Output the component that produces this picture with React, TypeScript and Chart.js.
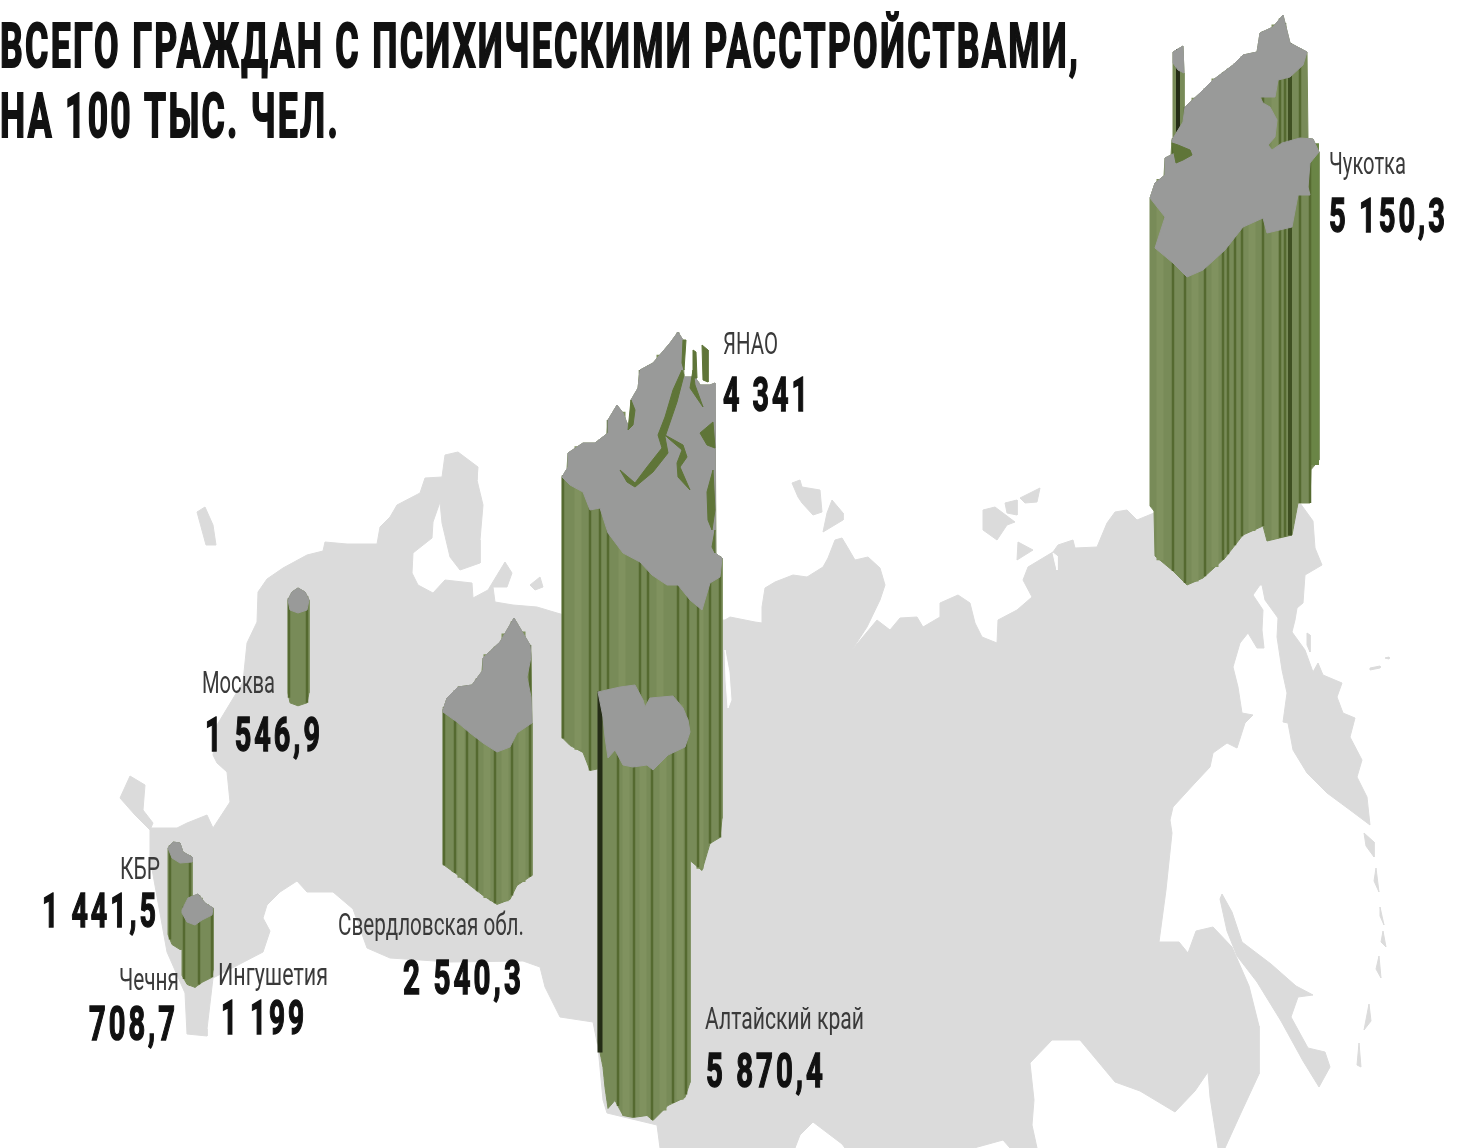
import React, { useEffect, useRef } from "react";
import { Chart, registerables } from "chart.js";

Chart.register(...registerables);

type P = [number, number];

const titleLines = ["ВСЕГО ГРАЖДАН С ПСИХИЧЕСКИМИ РАССТРОЙСТВАМИ,", "НА 100 ТЫС. ЧЕЛ."];
const regionNames = ["Чукотка", "ЯНАО", "Москва", "КБР", "Чечня", "Ингушетия", "Свердловская обл.", "Алтайский край"];
const regionValues = [5150.3, 4341, 1546.9, 1441.5, 708.7, 1199, 2540.3, 5870.4];
const valueLabels = ["5 150,3", "4 341", "1 546,9", "1 441,5", "708,7", "1 199", "2 540,3", "5 870,4"];
// column height in map units per value unit
const heightPerUnit = [0.0598, 0.06, 0.06, 0.06, 0.06, 0.052, 0.06, 0.0597];

// [left, baseline, width] of each label in map units
const nameBoxes = [[1329, 174, 77], [723, 354, 55], [202, 693, 73], [120, 879, 40], [119, 990, 60], [218, 985, 110], [338, 935, 186], [705, 1029, 159]];
const valueBoxes = [[1329, 232, 119], [723, 411, 88], [205, 751, 118], [42, 927, 117], [89, 1040, 89], [221, 1034, 86], [403, 994, 121], [706, 1087, 120]];
const titleBoxes = [[0, 67, 1080], [0, 137, 340]];

const mainland: P[] = [
  [258,592],[267,579],[283,568],[307,555],[323,551],[325,542],[347,544],[377,544],[380,527],[390,517],[397,505],[420,493],[425,478],[442,477],[445,455],[458,452],[478,467],[477,480],[483,505],[480,540],[480,563],[460,570],[450,557],[442,523],[440,502],[433,522],[432,538],[413,553],[412,573],[418,585],[433,593],[445,580],[472,583],[473,598],[488,590],[505,562],[512,573],[507,587],[493,587],[495,602],[513,605],[537,607],[557,613],
  [600,625],[725,620],[730,617],[755,622],[762,623],[762,607],[765,588],[775,582],[793,575],[807,577],[823,567],[828,558],[835,540],[842,538],[848,548],[855,560],[868,557],[880,568],[885,585],[880,600],[867,627],[852,650],[877,620],[890,630],[900,618],[917,617],[923,627],[940,617],[940,603],[958,595],[970,603],[975,623],[982,637],[997,643],[998,620],[1017,610],[1032,597],[1023,580],[1028,567],[1053,552],[1058,545],[1073,540],[1075,548],[1097,547],[1107,523],[1115,512],[1127,510],[1137,520],[1154,513],
  [1300,503],[1313,521],[1315,548],[1322,565],[1305,575],[1303,603],[1297,608],[1295,620],[1292,632],[1305,650],[1313,672],[1318,663],[1323,675],[1342,683],[1337,697],[1343,713],[1355,718],[1350,737],[1362,760],[1357,777],[1367,797],[1370,825],[1350,810],[1327,793],[1307,773],[1293,750],[1288,723],[1283,722],[1287,693],[1282,670],[1277,637],[1278,618],[1265,600],[1262,585],[1260,585],[1253,595],[1263,610],[1262,630],[1264,648],[1257,648],[1248,633],[1240,643],[1233,667],[1238,687],[1242,713],[1253,715],[1245,723],[1237,748],[1227,743],[1213,753],[1210,767],[1195,783],[1173,807],[1170,820],[1172,833],[1166,890],[1159,942],[1179,942],[1188,953],[1196,931],[1213,927],[1232,947],[1249,986],[1259,1026],[1259,1074],[1240,1115],[1225,1148],
  [1218,1148],[1210,1097],[1208,1072],[1195,1091],[1175,1112],[1140,1091],[1115,1082],[1080,1040],[1052,1040],[1030,1063],[1034,1100],[1032,1125],[1037,1148],[1010,1148],[1003,1140],[974,1148],[845,1148],[842,1144],[813,1122],[800,1135],[795,1148],[660,1148],[657,1125],[607,1113],[603,1100],[598,1047],[593,1022],[560,1017],[545,987],[540,967],[523,961],[450,962],[390,958],[367,948],[353,909],[333,892],[307,892],[297,881],[280,892],[267,905],[263,918],[270,931],[263,952],[213,978],[207,1029],[207,1036],[187,1034],[185,993],[167,952],[150,858],[150,828],[167,828],[177,828],[187,823],[207,815],[213,828],[230,802],[227,772],[217,763],[213,755],[217,725],[243,682],[247,643],[257,622],
];
const islands: P[][] = [
  [[197,512],[205,507],[213,525],[216,545],[206,545]],
  [[120,798],[130,776],[145,785],[143,810],[153,823],[150,830],[135,815]],
  [[530,585],[540,577],[543,587],[535,590]],
  [[792,483],[800,480],[802,487],[820,490],[822,512],[813,515],[802,503],[798,497]],
  [[832,500],[843,513],[843,520],[823,532],[827,513]],
  [[983,510],[995,507],[1003,513],[1015,522],[1007,525],[997,540],[983,530]],
  [[1005,503],[1017,500],[1017,515],[1007,513]],
  [[1020,498],[1040,488],[1037,502],[1025,503]],
  [[1018,542],[1033,550],[1017,560]],
  [[1222,894],[1232,912],[1242,942],[1271,964],[1296,986],[1313,995],[1298,997],[1291,1017],[1308,1048],[1325,1052],[1330,1067],[1319,1087],[1303,1061],[1281,1021],[1257,982],[1237,956],[1227,931],[1220,899]],
  [[1307,633],[1310,635],[1310,652],[1307,645]],
  [[1364,833],[1374,842],[1374,857],[1366,846]],
  [[1376,868],[1379,892],[1374,881]],
  [[1380,907],[1384,925],[1380,916]],
  [[1383,931],[1386,947],[1381,942]],
  [[1379,956],[1381,978],[1376,969]],
  [[1369,1004],[1364,1030],[1371,1021]],
  [[1359,1043],[1361,1067],[1357,1065]],
  [[1370,668],[1380,666],[1380,668],[1370,670]],
  [[1385,658],[1389,657],[1389,659]],
];
const riverCuts: P[][] = [
  [[725,650],[729,672],[731,700],[728,708],[726,680]],
  [[1053,553],[1057,556],[1057,570],[1055,562]],
];

const outlineChukotka: P[] = [[1150,198],[1155,183],[1165,175],[1165,158],[1175,153],[1172,140],[1183,122],[1185,107],[1200,93],[1213,80],[1233,65],[1243,55],[1257,52],[1260,33],[1273,27],[1283,15],[1290,43],[1307,52],[1303,65],[1290,77],[1278,80],[1275,97],[1260,97],[1263,103],[1270,107],[1277,120],[1275,137],[1268,145],[1272,150],[1282,143],[1300,138],[1313,139],[1319,152],[1310,163],[1308,187],[1310,195],[1298,195],[1292,227],[1267,233],[1263,218],[1243,227],[1225,250],[1203,270],[1187,277],[1173,263],[1155,248],[1165,217]];
const outlineWrangel: P[] = [[1173,52],[1183,46],[1184,73],[1178,70],[1173,63]];
const outlineYanao: P[] = [[562,477],[568,467],[568,453],[583,443],[595,443],[608,433],[608,420],[617,405],[623,413],[629,428],[633,420],[631,400],[638,388],[640,370],[653,363],[670,343],[678,332],[683,340],[682,363],[683,377],[695,377],[700,385],[710,385],[715,383],[715,553],[722,558],[720,577],[710,583],[702,610],[690,600],[678,585],[667,585],[652,575],[640,562],[623,553],[608,533],[600,508],[590,510],[583,492],[570,485]];
const outlineMoscow: P[] = [[288,600],[292,592],[298,588],[305,592],[309,600],[307,610],[298,613],[290,610]];
const outlineKbr: P[] = [[168,848],[173,842],[180,843],[183,852],[192,857],[192,862],[180,863],[172,858]];
const outlineChechnya: P[] = [[188,925],[196,918],[204,925],[198,932]];
const outlineIngushetia: P[] = [[182,910],[188,898],[198,894],[205,903],[213,908],[212,915],[202,920],[195,925],[187,922],[182,913]];
const outlineSverdlovsk: P[] = [[443,710],[447,698],[458,687],[472,685],[483,670],[483,658],[500,642],[514,618],[530,645],[531,657],[527,677],[531,697],[532,723],[517,733],[510,747],[497,752],[483,743],[470,733],[457,722],[443,712]];
const outlineAltai: P[] = [[598,692],[620,687],[635,685],[643,700],[645,707],[650,698],[673,696],[683,708],[688,720],[690,732],[685,747],[668,755],[653,770],[647,765],[633,767],[623,765],[615,750],[608,758],[605,737],[603,717]];

const inletsChukotka: P[][] = [[[1172,143],[1178,145],[1190,150],[1192,155],[1183,160],[1176,163]]];
const inletsYanao: P[][] = [
  [[682,370],[673,390],[665,417],[658,435],[662,448],[647,467],[635,483],[620,470],[627,482],[635,487],[653,472],[668,453],[665,437],[677,402],[684,375]],
  [[665,435],[683,445],[687,457],[680,467],[690,490],[678,477],[677,463],[682,450],[668,438]],
  [[700,433],[713,422],[715,448],[707,445]],
  [[713,470],[707,492],[708,520],[712,530],[715,510]],
  [[712,547],[715,553],[715,530]],
  [[690,388],[703,407],[695,385],[693,370]],
  [[693,350],[696,352],[697,378],[693,378]],
  [[702,345],[708,350],[708,382],[703,380]],
  [[683,340],[686,340],[684,370],[682,363]],
  [[631,400],[628,430],[633,425],[635,410]],
];

const ribsChukotka = [1173,1185,1205,1223,1228,1235,1242,1263,1300,1310,1280,1285];
const ribsWideChukotka = [1290];
const ribsWrangel = [1178];
const ribsYanao = [563,590,600,608,640,648,678,688,698,710,720];
const ribsMoscow = [289,307];
const ribsKbr = [170,190];
const ribsIngushetia = [184,199,212];
const ribsSverdlovsk = [444,455,467,477,495,512,530];
const ribsAltai = [618,634,652,673,686];
const ribsWideAltai = [600];
const glowChukotka = [1160,1195,1215,1252,1275];
const glowYanao = [578,622,660,700];
const glowSverdlovsk = [461,487,505,522];
const glowAltai = [626,643,663,680];
const greenChukotka = [1315];

const LAND = "#dbdbdb";
const TOP = "#999a99";
const OLIVE = "#788b58";
const LIGHT = "#80925f";
const GREEN = "#6a8546";
const DARK = "#556a30";
const DEEP = "#3f5022";
const BLACK = "#242c16";
const INK = "#111111";
const NAME_INK = "#3a3a3a";

const xsAt = (o: P[], x: number) => {
  const ys: number[] = [];
  o.forEach((a, i) => {
    const b = o[(i + 1) % o.length];
    const lo = Math.min(a[0], b[0]);
    const hi = Math.max(a[0], b[0]);
    if (x >= lo && x <= hi) ys.push(hi === lo ? a[1] : a[1] + ((x - a[0]) * (b[1] - a[1])) / (b[0] - a[0]));
  });
  return ys;
};

const bodyOf = (o: P[], h: number) => {
  const xs = o.map((p) => p[0]);
  const lo = Math.min(...xs);
  const hi = Math.max(...xs);
  const up: P[] = [];
  const down: P[] = [];
  for (let x = lo; x <= hi; x++) {
    const ys = xsAt(o, x);
    if (!ys.length) continue;
    up.push([x, Math.min(...ys)]);
    down.unshift([x, Math.max(...ys) + h]);
  }
  return [...up, ...down];
};

const ribsOf = (o: P[], h: number, xs: number[]) => {
  const out: ({ x: number; y: number } | { x: number; y: null })[] = [];
  xs.forEach((x) => {
    const ys = xsAt(o, x);
    if (!ys.length) return;
    out.push({ x, y: Math.min(...ys) }, { x, y: Math.max(...ys) + h }, { x, y: null });
  });
  return out;
};

export default function App() {
  const ref = useRef<HTMLCanvasElement | null>(null);
  useEffect(() => {
    document.body.style.margin = "0";
    const datasets: any[] = [];
    const push = (d: any) => {
      datasets.push({ type: "scatter", showLine: true, pointRadius: 0, pointHoverRadius: 0, tension: 0, spanGaps: false, ...d });
    };
    const poly = (pts: P[], color: string) =>
      push({ data: [...pts, pts[0]].map(([x, y]) => ({ x, y })), fill: "shape", backgroundColor: color, borderColor: color, borderWidth: 1 });
    const ribs = (data: any[], color: string, width: number) =>
      push({ data, fill: false, borderColor: color, borderWidth: width });

    poly(mainland, LAND);
    islands.forEach((s) => poly(s, LAND));
    riverCuts.forEach((s) => poly(s, "#ffffff"));

    const column = (o: P[], idx: number, ribX: number[], glow: number[], wide: number[], wideColor: string, wideWidth: number, inlets: P[][], green: number[] = []) => {
      const h = regionValues[idx] * heightPerUnit[idx];
      poly(bodyOf(o, h), OLIVE);
      if (glow.length) ribs(ribsOf(o, h, glow), LIGHT, 7);
      if (green.length) ribs(ribsOf(o, h, green), GREEN, 8);
      ribs(ribsOf(o, h, ribX), DARK, 2.5);
      if (wide.length) ribs(ribsOf(o, h, wide), wideColor, wideWidth);
      poly(o, TOP);
      inlets.forEach((s) => poly(s, "#5f7538"));
    };
    column(outlineWrangel, 0, ribsWrangel, [], ribsWrangel, BLACK, 4, []);
    column(outlineChukotka, 0, ribsChukotka, glowChukotka, ribsWideChukotka, DEEP, 4, inletsChukotka, greenChukotka);
    column(outlineYanao, 1, ribsYanao, glowYanao, [], DEEP, 0, inletsYanao);
    column(outlineAltai, 7, ribsAltai, glowAltai, ribsWideAltai, BLACK, 5, []);
    column(outlineSverdlovsk, 6, ribsSverdlovsk, glowSverdlovsk, [], DEEP, 0, []);
    column(outlineMoscow, 2, ribsMoscow, [], [], DEEP, 0, []);
    column(outlineKbr, 3, ribsKbr, [], [], DEEP, 0, []);
    column(outlineChechnya, 4, [], [], [], DEEP, 0, []);
    column(outlineIngushetia, 5, ribsIngushetia, [], [], DEEP, 0, []);

    datasets.forEach((d, i) => { d.order = datasets.length - i; });

    const labels = {
      id: "labels",
      afterDatasetsDraw(chart: any) {
        const { ctx, scales } = chart;
        const put = (text: string, box: number[], font: string, color: string, bold: number, spacing: string) => {
          const x = scales.x.getPixelForValue(box[0]);
          const y = scales.y.getPixelForValue(box[1]);
          ctx.save();
          ctx.font = font;
          ctx.letterSpacing = spacing;
          ctx.fillStyle = color;
          ctx.strokeStyle = color;
          ctx.textBaseline = "alphabetic";
          const w = ctx.measureText(text).width;
          ctx.translate(x, y);
          ctx.scale(box[2] / w, 1);
          ctx.fillText(text, 0, 0);
          if (bold) {
            ctx.lineWidth = bold;
            ctx.strokeText(text, 0, 0);
          }
          ctx.restore();
        };
        titleLines.forEach((t, i) => put(t, titleBoxes[i], 'bold 62px Roboto, sans-serif', INK, 2, "4px"));
        regionNames.forEach((t, i) => put(t, nameBoxes[i], '32px Roboto, sans-serif', NAME_INK, 0, "0px"));
        valueLabels.forEach((t, i) => put(t, valueBoxes[i], 'bold 48px Roboto, sans-serif', INK, 1.5, "5px"));
      },
    };

    const chart = new Chart(ref.current as HTMLCanvasElement, {
      type: "scatter",
      data: { datasets },
      options: {
        animation: false,
        responsive: false,
        layout: { padding: 0 },
        events: [],
        plugins: { legend: { display: false }, tooltip: { enabled: false }, title: { display: false } },
        scales: {
          x: { type: "linear", min: 0, max: 1483, display: false },
          y: { type: "linear", min: 0, max: 1148, reverse: true, display: false },
        },
      },
      plugins: [labels],
    } as any);
    return () => chart.destroy();
  }, []);
  return <canvas ref={ref} width={1483} height={1148} style={{ display: "block" }} />;
}
